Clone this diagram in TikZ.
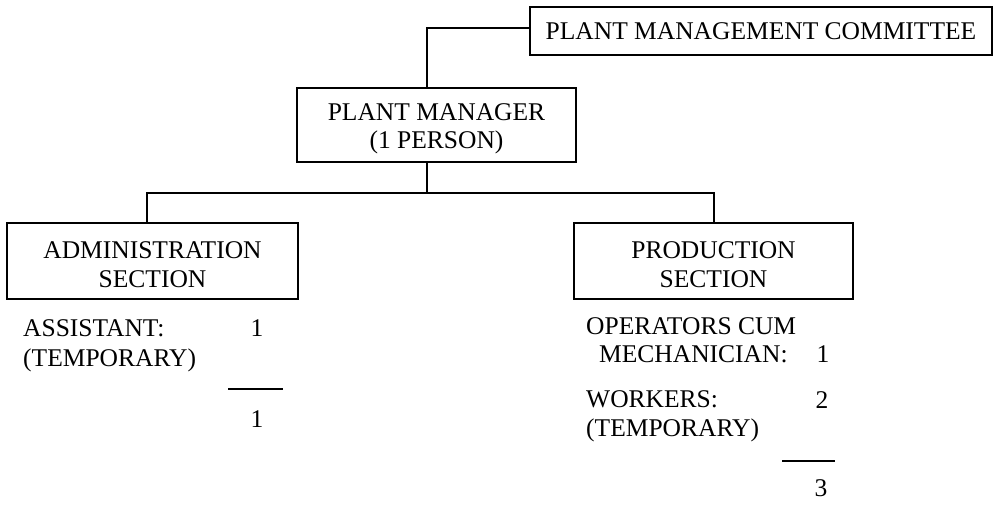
\documentclass[tikz,border=0pt]{standalone}
\usepackage{fontspec}
\setmainfont{Liberation Serif}
\newcommand{\upstrut}{\rule{0pt}{24pt}}
\begin{document}
\begin{tikzpicture}[x=1pt,y=-1pt,
  every node/.style={font=\fontsize{25.5}{28.5}\selectfont},
  orgbox/.style={draw, line width=1.4pt, align=center, inner sep=0pt},
  lbl/.style={anchor=base west, inner sep=0pt},
  num/.style={anchor=base, inner sep=0pt},
  conn/.style={line width=1.4pt},
  rule/.style={line width=1.4pt}]
\useasboundingbox (0,0) rectangle (994,504);
% boxes
\node[orgbox, minimum width=462pt, minimum height=48pt] (pmc) at (761,31) {PLANT MANAGEMENT COMMITTEE};
\node[orgbox, minimum width=279pt, minimum height=74pt] (pm) at (436.5,125) {\upstrut PLANT MANAGER\\(1 PERSON)};
\node[orgbox, minimum width=291pt, minimum height=76pt] (adm) at (152.5,261) {\upstrut ADMINISTRATION\\SECTION};
\node[orgbox, minimum width=279pt, minimum height=76pt] (prod) at (713.5,261) {\upstrut PRODUCTION\\SECTION};
% connectors
\coordinate (j1) at (427,28);
\coordinate (bus) at (427,193);
\coordinate (aj) at (147,193);
\coordinate (pj) at (714,193);
\draw[conn] (pmc.west |- j1) -- (j1) -- (j1 |- pm.north);
\draw[conn] (bus |- pm.south) -- (bus);
\draw[conn] (aj |- adm.north) -- (aj) -- (pj) -- (pj |- prod.north);
% administration staff
\node[lbl] (asst) at (23,336) {ASSISTANT:};
\node[num] (asstn) at (257,336) {1};
\node[lbl] (atemp) at (23,366) {(TEMPORARY)};
\coordinate (al1) at (228,389);
\coordinate (al2) at (283,389);
\draw[rule] (al1) -- (al2);
\node[num] (atot) at (257,427) {1};
% production staff
\node[lbl] (op) at (586,334) {OPERATORS CUM};
\node[lbl] (mech) at (599,362) {MECHANICIAN:};
\node[num] (mechn) at (823,362) {1};
\node[lbl] (wrk) at (586,407) {WORKERS:};
\node[num] (wrkn) at (822,408) {2};
\node[lbl] (ptemp) at (586,436) {(TEMPORARY)};
\coordinate (pl1) at (782,461);
\coordinate (pl2) at (835,461);
\draw[rule] (pl1) -- (pl2);
\node[num] (ptot) at (821,496) {3};
\end{tikzpicture}
\end{document}
